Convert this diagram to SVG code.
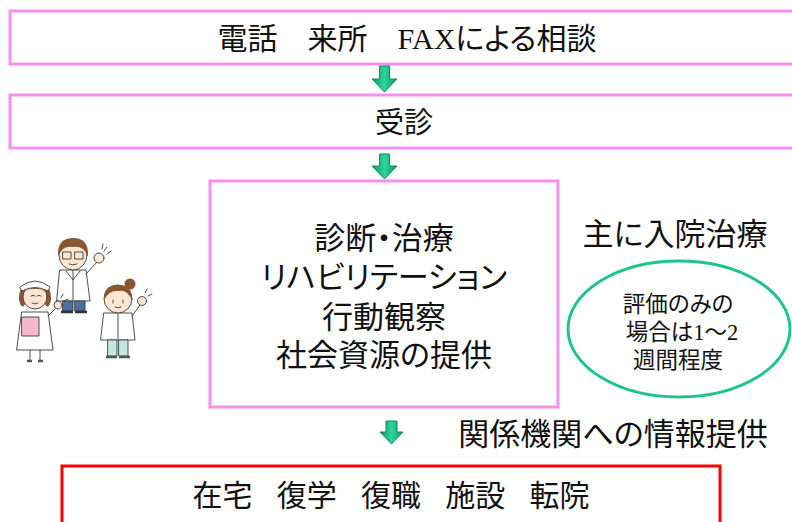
<svg xmlns="http://www.w3.org/2000/svg" width="792" height="522" viewBox="0 0 792 522">
  <defs>
    <style>
      .box{fill:#fff;stroke:#f490f2;stroke-width:3}
      .end{fill:#fff;stroke:#ff0000;stroke-width:3}
      .oval{fill:#fff;stroke:#1ec48e;stroke-width:3}
      .t{font-family:"Liberation Serif","Noto Sans CJK JP",sans-serif;fill:#111;text-anchor:middle;font-feature-settings:"palt";white-space:pre}
      .arrow{fill:url(#ag);stroke:#0f8c5e;stroke-width:1}
      .ink{stroke:#3a3a3a;stroke-width:0.9;stroke-linejoin:round;stroke-linecap:round}
      .skin{fill:#fde6d2}
      .hair{fill:#8a5632}
      .cloth{fill:#ffffff}
    </style>
    <linearGradient id="ag" x1="0" y1="0" x2="1" y2="0">
      <stop offset="0" stop-color="#0e9a66"/>
      <stop offset="0.5" stop-color="#30d39b"/>
      <stop offset="1" stop-color="#0e9a66"/>
    </linearGradient>
  </defs>

  <rect width="792" height="522" fill="#fff"/>

  <!-- flow steps -->
  <g id="consult">
    <rect class="box" x="10" y="11" width="800" height="53"/>
    <text class="t" x="407" y="49" font-size="30" xml:space="preserve">電話    来所    FAXによる相談</text>
  </g>
  <g id="visit">
    <rect class="box" x="10" y="95" width="800" height="53"/>
    <text class="t" x="404" y="133" font-size="29">受診</text>
  </g>
  <g id="care">
    <rect class="box" x="210" y="181" width="348" height="226"/>
    <text class="t" x="384" y="249" font-size="31">診断・治療</text>
    <text class="t" x="384" y="288" font-size="31">リハビリテーション</text>
    <text class="t" x="384" y="328" font-size="31">行動観察</text>
    <text class="t" x="384" y="366" font-size="31">社会資源の提供</text>
  </g>
  <g id="inpatient">
    <text class="t" x="675" y="245" font-size="31">主に入院治療</text>
  </g>
  <g id="assessment">
    <ellipse class="oval" cx="679" cy="329" rx="111" ry="68"/>
    <text class="t" x="678" y="312" font-size="22.5">評価のみの</text>
    <text class="t" x="682" y="340" font-size="22.5">場合は1～2</text>
    <text class="t" x="678" y="368" font-size="22.5">週間程度</text>
  </g>
  <g id="liaison">
    <text class="t" x="613" y="445" font-size="31">関係機関への情報提供</text>
  </g>
  <g id="outcome">
    <rect class="end" x="62" y="466" width="658" height="80"/>
    <text class="t" x="391" y="506" font-size="30" word-spacing="0.6" xml:space="preserve">在宅   復学   復職   施設   転院</text>
  </g>

  <!-- connectors -->
  <g id="connectors">
    <path class="arrow" d="M379.5,66 H389.5 V79 H397 L384.5,92 L372,79 H379.5 Z"/>
    <path class="arrow" d="M379.5,154 H389.5 V166 H397 L384.5,179 L372,166 H379.5 Z"/>
    <path class="arrow" d="M386,421 H397 V432 H403 L391.5,444 L380,432 H386 Z"/>
  </g>

  <!-- medical staff illustration -->
  <g id="staff">
    <!-- doctor -->
    <g id="doctor">
      <path class="cloth ink" d="M60,270 L86,270 L90,301 L57,301 Z"/>
      <path class="ink" fill="none" d="M73,271 V300 M66,271 L73,280 L80,271"/>
      <rect x="63" y="301" width="10" height="10" fill="#4a6fa0" class="ink"/>
      <rect x="75" y="301" width="10" height="10" fill="#4a6fa0" class="ink"/>
      <path d="M61,312 H73 M75,312 H87" stroke="#333" stroke-width="2.5"/>
      <ellipse class="skin ink" cx="73" cy="255" rx="14" ry="15"/>
      <path class="hair" d="M58,256 Q57,238 73,238 Q89,238 88,256 Q83,245 73,247 Q63,245 58,256 Z"/>
      <rect x="63" y="252" width="8" height="7" fill="none" class="ink"/>
      <rect x="75" y="252" width="8" height="7" fill="none" class="ink"/>
      <path class="ink" fill="none" d="M69,264 Q73,266 77,264"/>
      <path class="ink" fill="none" d="M86,274 L97,262"/>
      <circle class="skin ink" cx="99" cy="258" r="5"/>
      <path class="ink" fill="none" d="M104,251 l3,-4 M107,254 l4,-3 M102,249 l1,-5"/>
    </g>
    <!-- nurse -->
    <g id="nurse">
      <path class="cloth ink" d="M22,312 L48,312 L53,350 L17,350 Z"/>
      <path class="hair" d="M19,300 Q18,283 35,283 Q52,283 51,300 Q48,312 44,302 Q35,289 26,302 Q22,312 19,300 Z"/>
      <ellipse class="skin ink" cx="35" cy="297" rx="12" ry="12"/>
      <path class="hair" d="M23,293 Q35,282 47,293 Q40,288 35,289 Q29,288 23,293 Z"/>
      <path class="cloth ink" d="M20,287 Q35,275 50,287 L48,291 Q35,284 22,291 Z"/>
      <path class="ink" fill="none" d="M31,296 q2,-1.5 4,0 M37,296 q2,-1.5 4,0 M32,303 Q35,305 38,303"/>
      <rect x="22" y="317" width="17" height="19" fill="#f5b8c8" class="ink"/>
      <path class="ink" fill="none" d="M30,350 V360 M40,350 V360"/>
      <path d="M27,361 H32 M38,361 H43" stroke="#555" stroke-width="2.5"/>
      <path class="ink" fill="none" d="M48,316 L56,308"/>
      <circle class="skin ink" cx="58" cy="305" r="4"/>
      <path class="ink" fill="none" d="M61,298 l2,-4 M64,301 l4,-2"/>
    </g>
    <!-- staff member -->
    <g id="staff-woman">
      <path class="cloth ink" d="M104,313 L132,313 L135,340 L101,340 Z"/>
      <path class="ink" fill="none" d="M118,314 V339"/>
      <rect x="108" y="340" width="9" height="16" fill="#c2e8e0" class="ink"/>
      <rect x="119" y="340" width="9" height="16" fill="#c2e8e0" class="ink"/>
      <path d="M106,357 H117 M119,357 H130" stroke="#555" stroke-width="2.5"/>
      <circle class="hair" cx="130" cy="284" r="5.5"/>
      <ellipse class="skin ink" cx="118" cy="299" rx="14" ry="14"/>
      <path class="hair" d="M104,300 Q103,285 118,285 Q133,285 132,300 Q127,289 118,291 Q109,290 104,300 Z"/>
      <path class="ink" fill="none" d="M113,300 v3 M123,300 v3 M115,307 Q118,309 121,307"/>
      <path class="ink" fill="none" d="M132,316 L140,305"/>
      <circle class="skin ink" cx="142" cy="301" r="4.5"/>
      <path class="ink" fill="none" d="M145,293 l2,-4 M148,296 l4,-2"/>
    </g>
  </g>
</svg>
